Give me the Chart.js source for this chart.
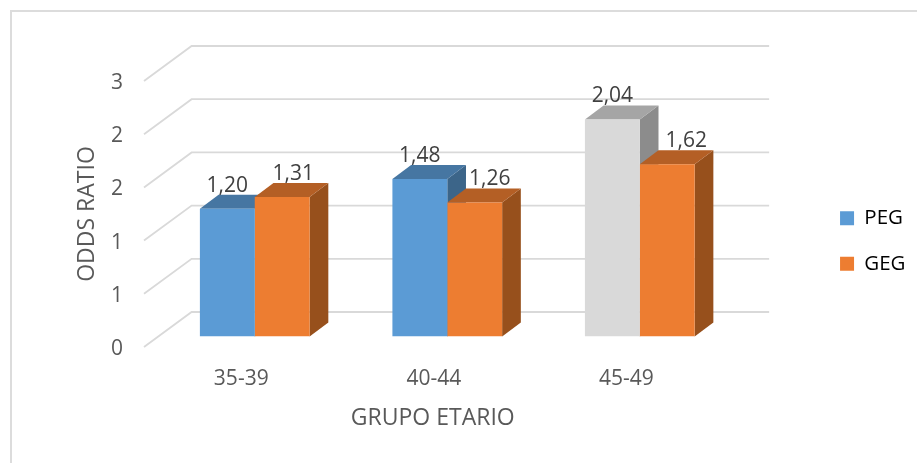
<!DOCTYPE html>
<html>
<head>
<meta charset="utf-8">
<script src="https://cdn.jsdelivr.net/npm/chart.js@4"></script>
<style>
    body { margin: 0; background: #fff; }
    canvas { display: block; }
</style>
</head>
<body>
<canvas id="chart" width="917" height="463"></canvas>
<script>
'use strict';

const categories = ['35-39', '40-44', '45-49'];
const pegValues = [1.20, 1.48, 2.04];
const gegValues = [1.31, 1.26, 1.62];
const tickValues = [0, 0.5, 1, 1.5, 2, 2.5];

const textColor = '#595959';
const gridColor = '#d9d9d9';
const fontFamily = '"Open Sans", sans-serif';

// depth of the floor, and where the bars stand on it
const wall = { dx: 47.6, dy: -35 };
const barShift = { dx: 14.5, dy: -10.5 };
const barDepth = { dx: 18.7, dy: -14 };

function poly(ctx, color, points) {
    ctx.fillStyle = color;
    ctx.beginPath();
    points.forEach(function (p, i) {
        if (i === 0) ctx.moveTo(p[0], p[1]);
        else ctx.lineTo(p[0], p[1]);
    });
    ctx.closePath();
    ctx.fill();
}

const fake3d = {
    id: 'fake3d',
    afterLayout(chart) {
        // legend is free of the plot, moved to its spot
        chart.legend.left += 93.5;
        chart.legend.right += 93.5;
        chart.legend.top -= 31;
        chart.legend.bottom -= 31;
    },
    beforeDraw(chart) {
        const ctx = chart.ctx;
        const y = chart.scales.y;
        const area = chart.chartArea;

        ctx.save();
        ctx.strokeStyle = '#dcdcdc';
        ctx.lineWidth = 2;
        ctx.beginPath();
        ctx.moveTo(11, 463);
        ctx.lineTo(11, 11);
        ctx.lineTo(917, 11);
        ctx.stroke();

        ctx.strokeStyle = gridColor;
        ctx.lineWidth = 1.8;
        tickValues.forEach(function (v) {
            const py = y.getPixelForValue(v);
            ctx.beginPath();
            ctx.moveTo(area.left, py);
            ctx.lineTo(area.left + wall.dx, py + wall.dy);
            ctx.lineTo(area.right + wall.dx, py + wall.dy);
            ctx.stroke();
        });
        ctx.restore();
    },
    beforeDatasetsDraw(chart) {
        const ctx = chart.ctx;
        ctx.save();
        ctx.translate(barShift.dx, barShift.dy);
        chart.data.datasets.forEach(function (ds, d) {
            chart.getDatasetMeta(d).data.forEach(function (bar, i) {
                const l = bar.x - bar.width / 2;
                const r = bar.x + bar.width / 2;
                const t = bar.y;
                const b = bar.base;
                const dx = barDepth.dx;
                const dy = barDepth.dy;
                poly(ctx, ds.sideColors[i], [[r, t], [r + dx, t + dy], [r + dx, b + dy], [r, b]]);
                poly(ctx, ds.topColors[i], [[l, t], [l + dx, t + dy], [r + dx, t + dy], [r, t]]);
            });
        });
    },
    afterDatasetsDraw(chart) {
        const ctx = chart.ctx;
        ctx.restore();

        ctx.save();
        ctx.font = '21px ' + fontFamily;
        ctx.fillStyle = '#404040';
        ctx.textAlign = 'center';
        ctx.textBaseline = 'middle';
        chart.data.datasets.forEach(function (ds, d) {
            chart.getDatasetMeta(d).data.forEach(function (bar, i) {
                const text = ds.data[i].toFixed(2).replace('.', ',');
                ctx.fillText(text, bar.x + barShift.dx + ds.labelShift[i], bar.y + barShift.dy - 23);
            });
        });
        ctx.restore();
    }
};

new Chart(document.getElementById('chart'), {
    type: 'bar',
    plugins: [fake3d],
    data: {
        labels: categories,
        datasets: [
            {
                label: 'PEG',
                data: pegValues,
                backgroundColor: ['#5b9bd5', '#5b9bd5', '#d9d9d9'],
                topColors: ['#4676a2', '#4676a2', '#a5a5a5'],
                sideColors: ['#3c6589', '#3c6589', '#8c8c8c'],
                labelShift: [0, 0, 0]
            },
            {
                label: 'GEG',
                data: gegValues,
                backgroundColor: '#ed7d31',
                topColors: ['#b45f25', '#b45f25', '#b45f25'],
                sideColors: ['#97501c', '#97501c', '#97501c'],
                labelShift: [11, 15, 19]
            }
        ]
    },
    options: {
        responsive: false,
        animation: false,
        layout: { padding: { left: 0, right: 95, top: 81, bottom: 0 } },
        datasets: {
            bar: { barPercentage: 1, categoryPercentage: 0.57 }
        },
        plugins: {
            tooltip: { enabled: false },
            legend: {
                position: 'right',
                labels: {
                    boxWidth: 14,
                    boxHeight: 14,
                    padding: 25,
                    color: textColor,
                    font: { family: fontFamily, size: 20.5 },
                    generateLabels() {
                        return [
                            { text: 'PEG', fillStyle: '#5b9bd5', strokeStyle: '#5b9bd5', lineWidth: 0 },
                            { text: 'GEG', fillStyle: '#ed7d31', strokeStyle: '#ed7d31', lineWidth: 0 }
                        ];
                    }
                }
            }
        },
        scales: {
            x: {
                afterFit(scale) { scale.height = 116; },
                grid: { display: false, drawTicks: false },
                border: { display: false },
                ticks: {
                    padding: 19,
                    labelOffset: 1,
                    color: textColor,
                    font: { family: fontFamily, size: 21 }
                },
                title: {
                    display: true,
                    text: 'GRUPO ETARIO',
                    color: textColor,
                    padding: { top: 0, bottom: 31 },
                    font: { family: fontFamily, size: 23 }
                }
            },
            y: {
                min: 0,
                max: 2.5,
                afterFit(scale) { scale.width = 144; },
                grid: { display: false, drawTicks: false },
                border: { display: false },
                ticks: {
                    stepSize: 0.5,
                    padding: 21,
                    labelOffset: 2,
                    color: textColor,
                    font: { family: fontFamily, size: 21 },
                    callback(value) { return Math.round(value).toString(); }
                },
                title: {
                    display: true,
                    text: 'ODDS RATIO',
                    color: textColor,
                    padding: { top: 74, bottom: 0 },
                    font: { family: fontFamily, size: 23 }
                }
            }
        }
    }
});
</script>
</body>
</html>
